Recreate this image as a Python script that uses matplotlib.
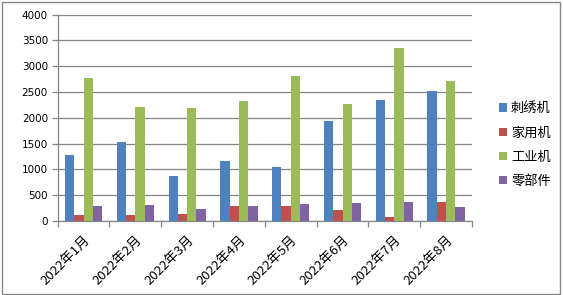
import matplotlib
matplotlib.use("Agg")
import matplotlib.pyplot as plt
from matplotlib.patches import Rectangle
import numpy as np

plt.rcParams['font.family'] = ['Noto Sans CJK SC', 'DejaVu Sans']

months = ["2022年1月", "2022年2月", "2022年3月", "2022年4月",
          "2022年5月", "2022年6月", "2022年7月", "2022年8月"]
embroidery = [1279, 1531, 872, 1163, 1047, 1939, 2346, 2520]
household = [116, 116, 136, 291, 291, 213, 78, 368]
industrial = [2772, 2210, 2191, 2326, 2811, 2268, 3354, 2714]
parts = [291, 310, 233, 291, 330, 349, 368, 271]
series_names = ["刺绣机", "家用机", "工业机", "零部件"]
colors = ["#4F81BD", "#C0504D", "#9BBB59", "#8064A2"]
yticks = [0, 500, 1000, 1500, 2000, 2500, 3000, 3500, 4000]

W, H = 563, 295
fig = plt.figure(figsize=(W / 100, H / 100), dpi=100)
ax = fig.add_axes([57.7 / W, 1 - 221 / H, (472 - 57.7) / W, (221 - 14.7) / H])

x = np.arange(len(months))
bw = 0.18
offsets = [-1.5 * bw, -0.5 * bw, 0.5 * bw, 1.5 * bw]
handles = []
for vals, name, c, off in zip([embroidery, household, industrial, parts], series_names, colors, offsets):
    h = ax.bar(x + off, vals, width=bw, color=c, label=name, zorder=3, linewidth=0)
    handles.append(h)

ax.set_xlim(-0.5, len(months) - 0.5)
ax.set_ylim(0, 4000)
ax.set_yticks(yticks)
ax.set_yticklabels([str(v) for v in yticks], fontsize=7.5, family='DejaVu Sans')
ax.yaxis.grid(True, color='#868686', linewidth=0.9, zorder=0)
ax.set_axisbelow(True)

ax.set_xticks(np.arange(-0.5, len(months)), minor=False)
ax.set_xticklabels([])
ax.set_xticks(x, minor=True)
ax.set_xticklabels(months, minor=True, rotation=45, ha='right', va='top',
                   rotation_mode='anchor', fontsize=9.5)
ax.tick_params(axis='x', which='major', length=4, color='#868686', width=0.9)
ax.tick_params(axis='x', which='minor', length=0, pad=9)
ax.tick_params(axis='y', length=4, color='#868686', width=0.9, pad=3)

for s in ['top', 'right']:
    ax.spines[s].set_visible(False)
for s in ['left', 'bottom']:
    ax.spines[s].set_color('#868686')
    ax.spines[s].set_linewidth(0.9)

fig.legend(handles=handles, labels=series_names, loc='center left',
           bbox_to_anchor=(494 / W, 1 - 145 / H), frameon=False, fontsize=9.5,
           handlelength=0.6, handleheight=0.6, handletextpad=0.3, labelspacing=0.85,
           borderaxespad=0)

fig.patches.append(Rectangle((1.5 / W, 1.5 / H), (560 - 1.5) / W, (293 - 1.5) / H,
                             transform=fig.transFigure, fill=False,
                             edgecolor='#888888', linewidth=1))

fig.savefig("out.png", dpi=100)
